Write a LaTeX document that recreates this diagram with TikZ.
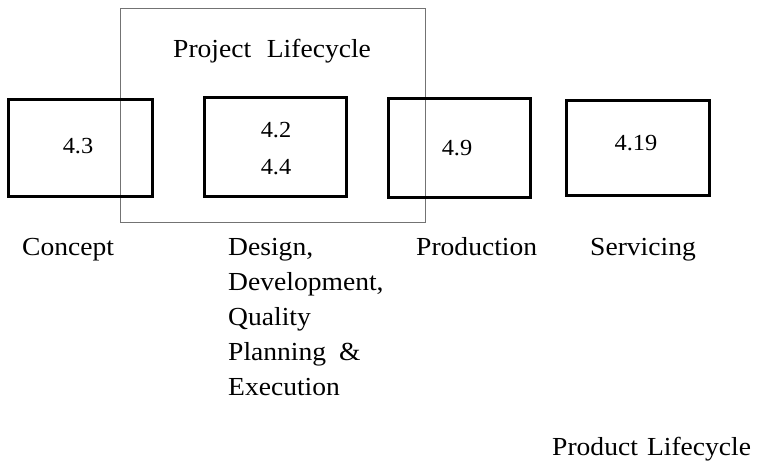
\documentclass[tikz,border=0pt]{standalone}
\usepackage{fontspec}
\setmainfont{Liberation Serif}[FakeStretch=1.06]
\begin{document}
\begin{tikzpicture}[x=1pt,y=-1pt,
  stage/.style={draw=black,line width=3pt,inner sep=0pt},
  num/.style={font=\fontsize{23}{37}\selectfont,align=center},
  lab/.style={font=\fontsize{26}{35}\selectfont,anchor=base west,inner sep=0pt,align=left},
  project/.style={draw=black!55,line width=0.8pt}]
\useasboundingbox (0,0) rectangle (760,463);
% project lifecycle frame
\draw[project] (120.5,8.5) rectangle (425,222.5);
\node[lab] (projlab) at (173,57) {Project\hspace{0.6em}Lifecycle};
% lifecycle stages
\node[stage,minimum width=144pt,minimum height=97pt] (concept) at (80,148) {};
\node[num] (n43) at (78,146) {4.3};
\node[stage,minimum width=142pt,minimum height=99pt] (design) at (275,146.5) {};
\node[num] (n42) at (276,149) {4.2\\4.4};
\node[stage,minimum width=142pt,minimum height=99pt] (prod) at (459,147.5) {};
\node[num] (n49) at (457,148) {4.9};
\node[stage,minimum width=143pt,minimum height=95pt] (serv) at (637.5,147.5) {};
\node[num] (n419) at (636,143) {4.19};
% stage captions (base anchor of a multi-line node sits on its last line)
\node[lab] (lconcept) at (22,255) {Concept};
\node[lab] (ldesign) at (228,395) {Design,\\Development,\\Quality\\Planning\hspace{0.5em}\&\\Execution};
\node[lab] (lprod) at (416,255) {Production};
\node[lab] (lserv) at (590,255) {Servicing};
\node[lab] (lproduct) at (552,455) {Product\hspace{0.35em}Lifecycle};
\end{tikzpicture}
\end{document}
